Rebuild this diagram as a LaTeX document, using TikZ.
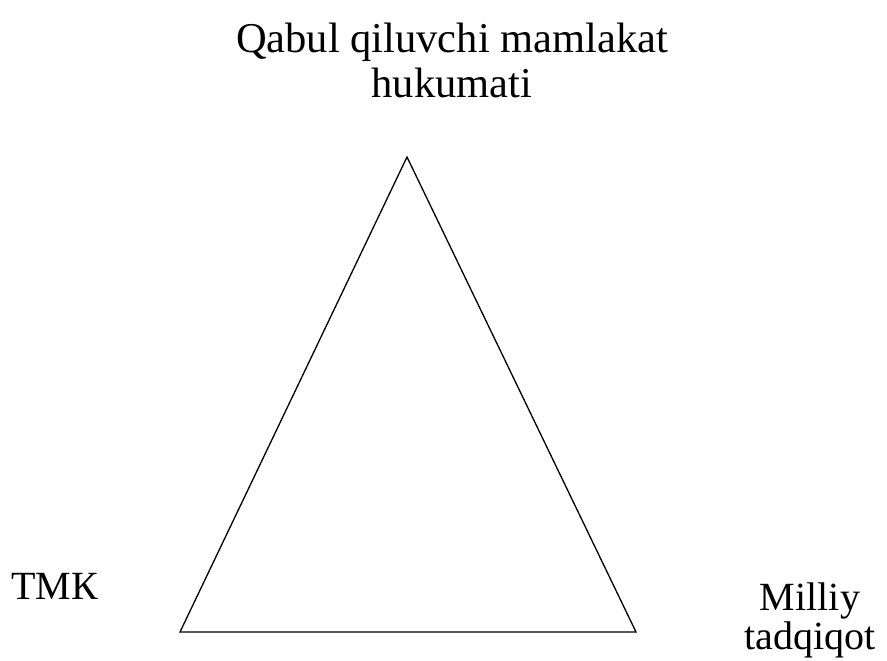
\documentclass[tikz,border=0pt]{standalone}
\usepackage{fontspec}
\setmainfont{Liberation Serif}
\begin{document}
\begin{tikzpicture}[x=1pt,y=-1pt,
  lbl/.style={anchor=base,inner sep=0pt,font=\fontsize{40}{40}\selectfont},
  ttl/.style={anchor=base,inner sep=0pt,font=\fontsize{42.5}{42.5}\selectfont},
  edge/.style={draw,line width=1.3pt,line join=miter}]
\useasboundingbox (0,0) rectangle (887,661);
\coordinate (top) at (407,157);
\coordinate (bl) at (180,632);
\coordinate (br) at (636,632);
\draw[edge] (top) -- (bl) -- (br) -- cycle;
\node[ttl] (t1) at (452,53) {Qabul qiluvchi mamlakat};
\node[ttl] (t2) at (452,98) {hukumati};
\node[lbl] (tmk) at (55,599) {ТМК};
\node[lbl] (m1) at (810,610) {Milliy};
\node[lbl] (m2) at (810,649) {tadqiqot};
\end{tikzpicture}
\end{document}
